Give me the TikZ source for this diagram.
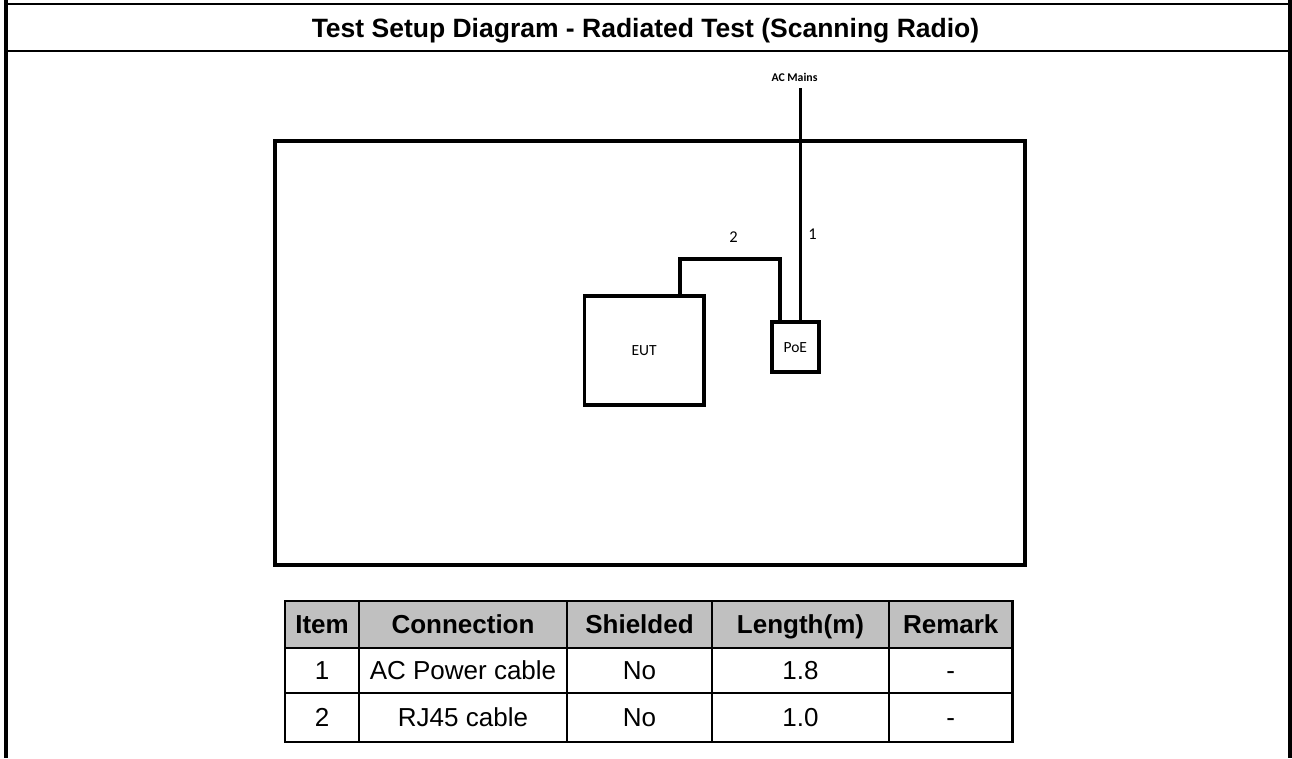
\documentclass[tikz,border=0pt]{standalone}
\usepackage{fontspec}
\setmainfont{Liberation Sans}
\newfontfamily\labelfont{Carlito}
\usetikzlibrary{positioning,calc}

\definecolor{headgray}{RGB}{192,192,192}

\tikzset{
  frameline/.style={line width=4.3pt},
  cable/.style={line width=3.8pt},
  unitbox/.style={draw,line width=3.8pt,inner sep=0pt,font=\labelfont\fontsize{15.5}{18}\selectfont},
  cablelabel/.style={font=\labelfont\fontsize{16.5}{19}\selectfont},
  gridline/.style={line width=2.2pt},
  headcell/.style={anchor=base,font=\bfseries\fontsize{26}{30}\selectfont},
  bodycell/.style={anchor=base,font=\fontsize{26}{30}\selectfont},
}

\begin{document}
\begin{tikzpicture}[x=1pt,y=-1pt]
  \useasboundingbox (0,0) rectangle (1292,758);
  \fill[white] (0,0) rectangle (1292,758);

  % page frame
  \draw[frameline] (6,0) -- (6,758);
  \draw[frameline] (1290,0) -- (1290,758);
  \draw[line width=1.8pt] (6,4) -- (1290,4);
  \draw[line width=2pt] (6,51) -- (1290,51);
  \node[anchor=base,font=\bfseries\fontsize{26.5}{30}\selectfont] (title) at (645.5,37) {Test Setup Diagram - Radiated Test (Scanning Radio)};

  % test table (outline)
  \draw[line width=4pt] (275,141) rectangle (1024.5,564.5);

  % units
  \node[unitbox,minimum width=119.3pt,minimum height=109.2pt] (eut) at (644.2,350.4) {EUT};
  \node[unitbox,minimum width=47.3pt,minimum height=50pt] (poe) at (795.3,347.3) {PoE};

  % cable 1: AC mains to PoE
  \node[font=\labelfont\bfseries\fontsize{11.8}{14}\selectfont] (mainslabel) at (794.5,77) {AC Mains};
  \coordinate (mains) at (800.5,88);
  \draw[cable] (mains) -- (mains |- poe.north);
  \node[cablelabel] (lab1) at (812.5,234) {1};

  % cable 2: EUT to PoE
  \coordinate (rjtop) at (680.3,259);
  \coordinate (rjport) at ($(poe.north)+(-15.3,0)$);
  \draw[cable] (eut.north -| rjtop) -- (rjtop) -| (rjport);
  \node[cablelabel] (lab2) at (733.5,237) {2};

  % cable list
  \fill[headgray] (285,601) rectangle (1012.5,648);
  \foreach \y in {648,693} \draw[gridline] (285,\y) -- (1012.5,\y);
  \foreach \x in {359,567,712,889} \draw[gridline] (\x,601) -- (\x,742);
  \draw[gridline] (285,601) rectangle (1012.5,742);
  \foreach \cx/\txt [count=\i] in {322/Item,463/Connection,639.5/Shielded,800.5/{Length(m)},950.75/Remark}
    \node[headcell] (head\i) at (\cx,633.8) {\txt};
  \foreach \cx/\txt [count=\i] in {322/1,463/{AC Power cable},639.5/No,800.5/1.8,950.75/-}
    \node[bodycell] (rowa\i) at (\cx,679.8) {\txt};
  \foreach \cx/\txt [count=\i] in {322/2,463/{RJ45 cable},639.5/No,800.5/1.0,950.75/-}
    \node[bodycell] (rowb\i) at (\cx,726.8) {\txt};
\end{tikzpicture}
\end{document}
